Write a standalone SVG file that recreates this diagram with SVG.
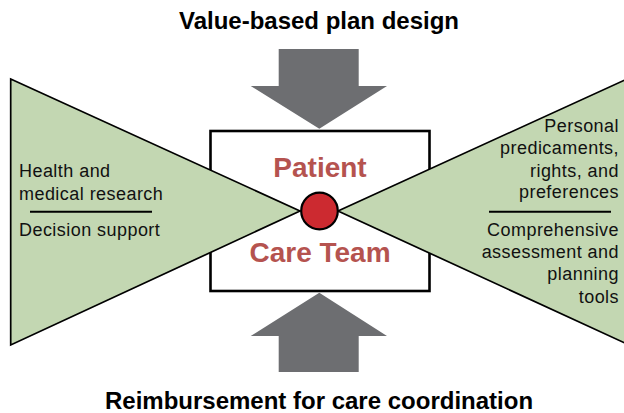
<svg xmlns="http://www.w3.org/2000/svg" width="624" height="413" viewBox="0 0 624 413">
<style>
.title{font-family:"Liberation Sans",Arial,sans-serif;font-weight:bold;font-size:24px;fill:#000;text-anchor:middle}
.lbl{font-family:"Liberation Sans",Arial,sans-serif;font-size:18px;letter-spacing:0.45px;fill:#111}
.big{font-family:"Liberation Sans",Arial,sans-serif;font-weight:bold;font-size:28px;fill:#b5534f;text-anchor:middle}
.arrow{fill:#6d6e71}
.tri{fill:#c3d7b2;stroke:#000;stroke-width:1.7;stroke-linejoin:miter}
.sep{stroke:#000;stroke-width:2}
</style>
<rect width="624" height="413" fill="#fff"/>
<g id="title-top"><text class="title" x="319" y="29">Value-based plan design</text></g>
<g id="title-bottom"><text class="title" x="319" y="409">Reimbursement for care coordination</text></g>
<g id="connectors">
<polygon id="arrow-top" class="arrow" points="278.7,49 358.7,49 358.7,86 387,86 319.3,128.7 250.7,86 278.7,86"/>
<polygon id="arrow-bottom" class="arrow" points="319.3,292.7 387,336 358.7,336 358.7,372 278.7,372 278.7,336 250.7,336"/>
</g>
<g id="box"><rect x="210.5" y="131" width="219" height="160" fill="#fff" stroke="#000" stroke-width="2.6"/></g>
<g id="left-wedge">
<polygon class="tri" points="10.7,79 300,211 10.7,345"/>
<text class="lbl" x="19" y="176.7">Health and</text>
<text class="lbl" x="19" y="199.5">medical research</text>
<line class="sep" x1="30" y1="211.7" x2="152" y2="211.7"/>
<text class="lbl" x="19" y="236">Decision support</text>
</g>
<g id="right-wedge">
<polygon class="tri" points="627,79 338,211 627,344"/>
<g style="text-anchor:end">
<text class="lbl" x="619" y="131.7">Personal</text>
<text class="lbl" x="619" y="154.3">predicaments,</text>
<text class="lbl" x="619" y="176.7">rights, and </text>
<text class="lbl" x="619" y="198.3">preferences</text>
<line class="sep" x1="489" y1="211.7" x2="611" y2="211.7"/>
<text class="lbl" x="619" y="236">Comprehensive</text>
<text class="lbl" x="619" y="258.3">assessment and</text>
<text class="lbl" x="619" y="280">planning</text>
<text class="lbl" x="619" y="302.7">tools</text>
</g>
</g>
<g id="center">
<text class="big" x="320" y="176.7">Patient</text>
<text class="big" x="320" y="262">Care Team</text>
<circle cx="319.5" cy="211" r="18.3" fill="#cc2a30" stroke="#000" stroke-width="2.2"/>
</g>
</svg>
